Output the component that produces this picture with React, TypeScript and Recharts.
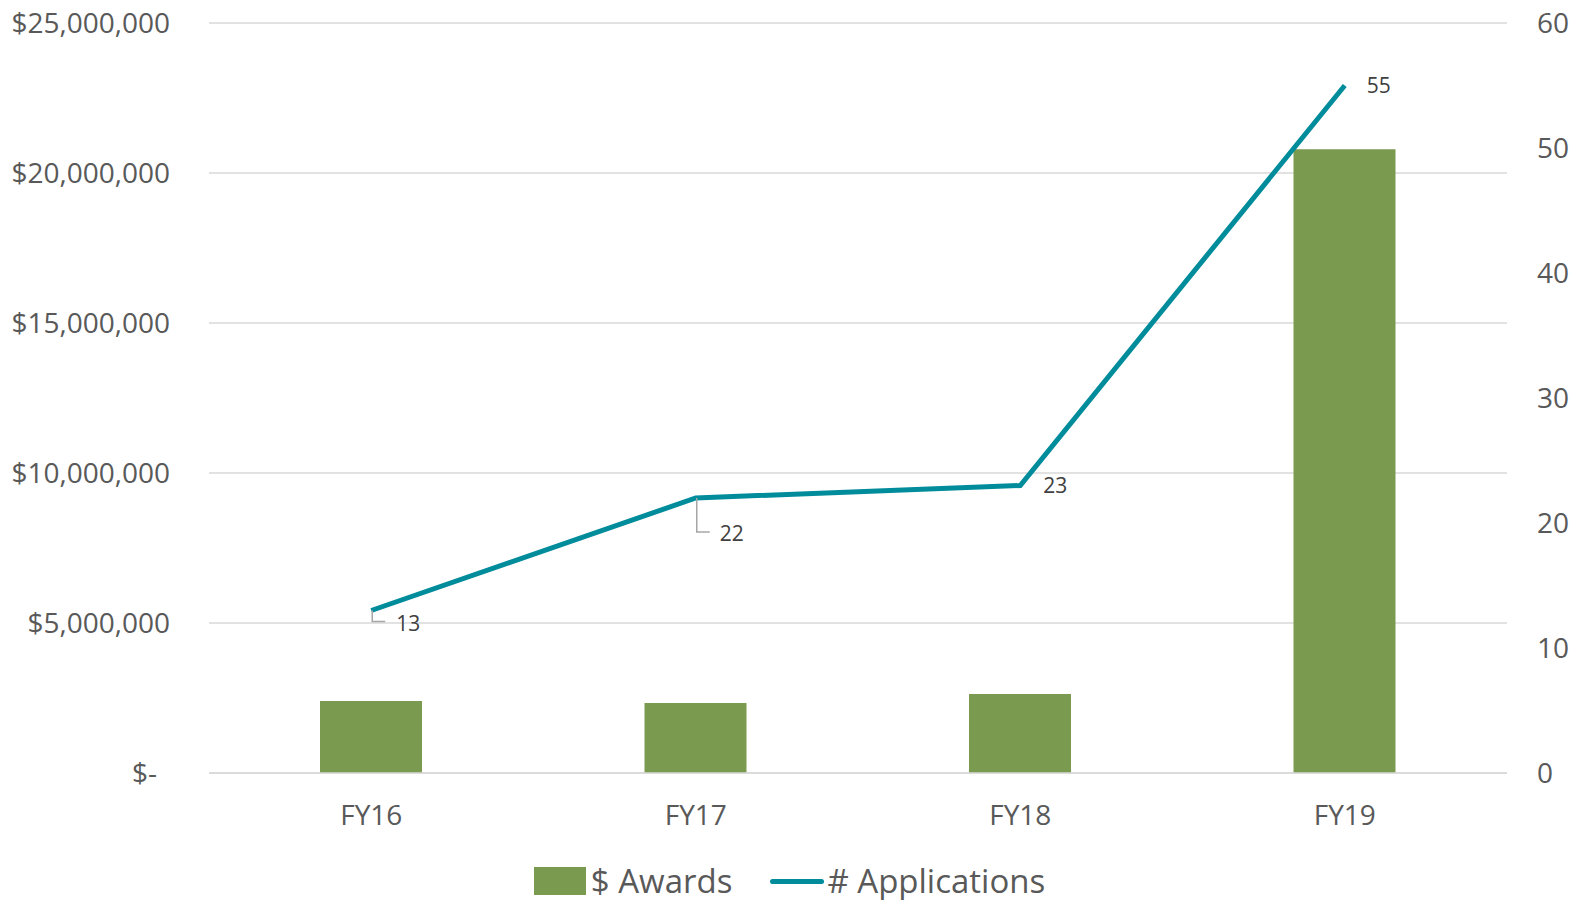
import React from "react";
import { ComposedChart, Bar, Line, XAxis, YAxis, CartesianGrid, Legend, LabelList } from "recharts";

// Data
const years = ["FY16", "FY17", "FY18", "FY19"];
const awards = [2400000, 2330000, 2630000, 20790000];
const applications = [13, 22, 23, 55];
const dollarTicks = [0, 5000000, 10000000, 15000000, 20000000, 25000000];
const countTicks = [0, 10, 20, 30, 40, 50, 60];

const data = years.map((year, i) => ({
  year,
  awards: awards[i],
  applications: applications[i],
}));

// where each line label sits relative to its point
const labelOffsets = [
  { dx: 25, dy: 13, leader: true },
  { dx: 24, dy: 36, leader: true },
  { dx: 23, dy: 0, leader: false },
  { dx: 22, dy: 0, leader: false },
];

const GREEN = "#7A9A50";
const TEAL = "#008C9B";
const TICK = "#595959";

const DollarTick = (props: any) => {
  const { x, y, payload } = props;
  const v = payload.value;
  const label = v === 0 ? "$-" : "$" + v.toLocaleString("en-US");
  return (
    <text x={v === 0 ? x - 13 : x} y={y} dy="0.355em" textAnchor="end" fill={TICK} fontSize={28}>
      {label}
    </text>
  );
};

const renderLineLabel = (props: any) => {
  const { x, y, value, index } = props;
  const o = labelOffsets[index];
  return (
    <g key={`lbl-${index}`}>
      {o.leader && (
        <path
          d={`M${x + 1},${y} V${y + o.dy - 2} H${x + 14}`}
          stroke="#A6A6A6"
          strokeWidth={1.5}
          fill="none"
        />
      )}
      <text x={x + o.dx} y={y + o.dy} dy="0.35em" fill="#404040" fontSize={21}>
        {value}
      </text>
    </g>
  );
};

const renderLegend = () => (
  <div
    style={{
      height: 67,
      display: "flex",
      justifyContent: "center",
      alignItems: "flex-end",
      fontSize: 33,
      lineHeight: "32px",
      color: TICK,
      paddingBottom: 3,
      boxSizing: "border-box",
    }}
  >
    <div style={{ display: "flex", alignItems: "center" }}>
      <span style={{ display: "inline-block", width: 52, height: 28, background: GREEN, marginRight: 5 }} />
      <span>$ Awards</span>
    </div>
    <div style={{ display: "flex", alignItems: "center", marginLeft: 38 }}>
      <span
        style={{ display: "inline-block", width: 54, height: 5, borderRadius: 3, background: TEAL, marginRight: 3 }}
      />
      <span># Applications</span>
    </div>
  </div>
);

export default function App() {
  return (
    <div style={{ position: "absolute", left: 0, top: 0, fontFamily: "'Open Sans'", background: "#fff" }}>
      <ComposedChart
        width={1579}
        height={900}
        data={data}
        margin={{ top: 23, right: 0, bottom: 0, left: 0 }}
      >
        <CartesianGrid yAxisId="left" vertical={false} stroke="#D9D9D9" strokeWidth={1.5} />
        <XAxis
          dataKey="year"
          height={60}
          axisLine={{ stroke: "#D9D9D9", strokeWidth: 1.5 }}
          tickLine={false}
          tickSize={0}
          tickMargin={32}
          tick={{ fill: TICK, fontSize: 28 }}
        />
        <YAxis
          yAxisId="left"
          width={209}
          domain={[0, 25000000]}
          ticks={dollarTicks}
          axisLine={false}
          tickLine={false}
          tickSize={0}
          tickMargin={39}
          tick={<DollarTick />}
        />
        <YAxis
          yAxisId="right"
          orientation="right"
          width={72}
          domain={[0, 60]}
          ticks={countTicks}
          axisLine={false}
          tickLine={false}
          tickSize={0}
          tickMargin={30}
          tick={{ fill: TICK, fontSize: 28, textAnchor: "start" }}
        />
        <Legend verticalAlign="bottom" content={renderLegend} />
        <Bar yAxisId="left" dataKey="awards" name="$ Awards" fill={GREEN} barSize={102} isAnimationActive={false} />
        <Line
          yAxisId="right"
          dataKey="applications"
          name="# Applications"
          stroke={TEAL}
          strokeWidth={5}
          dot={false}
          activeDot={false}
          isAnimationActive={false}
        >
          <LabelList dataKey="applications" content={renderLineLabel} />
        </Line>
      </ComposedChart>
    </div>
  );
}
